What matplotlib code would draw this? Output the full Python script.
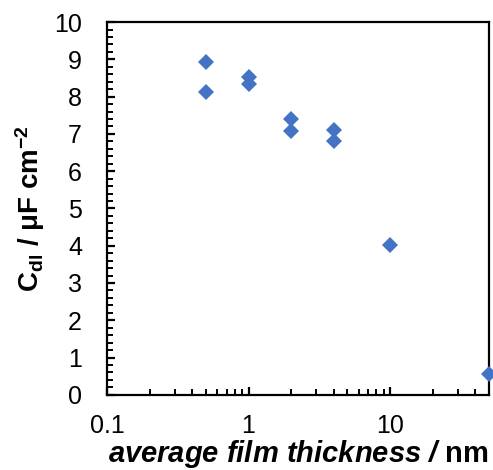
import matplotlib
matplotlib.use("Agg")
import matplotlib.pyplot as plt
from matplotlib.ticker import LogLocator, MultipleLocator, FixedLocator, NullFormatter

thickness = [0.5, 0.5, 1, 1, 2, 2, 4, 4, 10, 50]
cdl = [8.92, 8.12, 8.52, 8.35, 7.40, 7.09, 7.10, 6.82, 4.03, 0.55]

plt.rcParams['font.family'] = ['Liberation Sans', 'DejaVu Sans']
plt.rcParams['mathtext.fontset'] = 'custom'
plt.rcParams['mathtext.rm'] = 'Liberation Sans'
plt.rcParams['mathtext.bf'] = 'Liberation Sans:bold'
plt.rcParams['mathtext.it'] = 'Liberation Sans:italic'

fig = plt.figure(figsize=(4.93, 4.70), dpi=100)
ax = fig.add_axes([0.217, 0.160, 0.775, 0.793])
ax.plot(thickness, cdl, linestyle='none', marker='D', markersize=8.5,
        color='#4472C4', markeredgewidth=0, clip_on=False, zorder=5)
ax.set_xscale('log')
ax.set_xlim(0.1, 50)
ax.set_ylim(0, 10)
ax.xaxis.set_major_locator(FixedLocator([0.1, 1, 10]))
ax.set_xticklabels(['0.1', '1', '10'])
ax.xaxis.set_minor_locator(LogLocator(base=10, subs=range(2, 10)))
ax.xaxis.set_minor_formatter(NullFormatter())
ax.yaxis.set_major_locator(MultipleLocator(1))
ax.yaxis.set_minor_locator(MultipleLocator(0.2))

for s in ax.spines.values():
    s.set_linewidth(1.6)
    s.set_color('black')
ax.tick_params(axis='both', which='major', direction='in', length=6, width=1.6,
               labelsize=18)
ax.tick_params(axis='both', which='minor', direction='in', length=4, width=1.4)
ax.tick_params(axis='y', which='major', pad=18)
ax.tick_params(axis='x', which='major', pad=14)

ax.set_xlabel(r'average film thickness / $\mathbf{nm}$', fontsize=21, fontweight='bold',
              fontstyle='italic', labelpad=0)
ax.set_ylabel(r'C$_{\mathbf{dl}}$ / μF cm$^{\mathbf{-2}}$', fontsize=20,
              fontweight='bold', labelpad=5)

fig.savefig('out.png', dpi=100)
